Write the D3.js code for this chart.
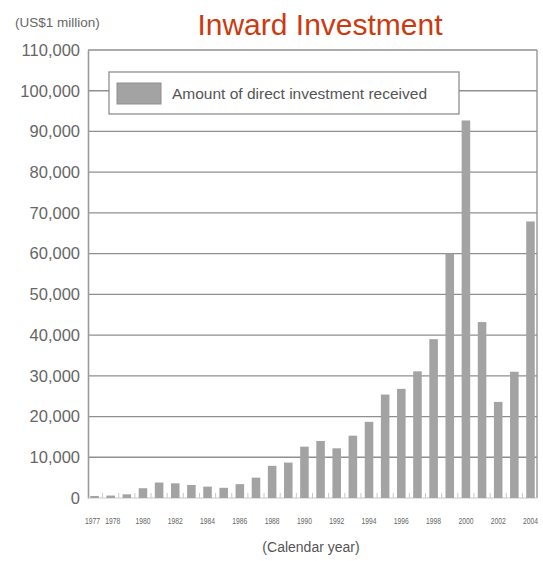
<!DOCTYPE html>
<html>
<head>
<meta charset="utf-8">
<script src="https://cdn.jsdelivr.net/npm/d3@7"></script>
<style>
  body { margin: 0; background: #fff; }
  text { font-family: 'Liberation Sans', Arial, sans-serif; }
</style>
</head>
<body>
<div id="chart"></div>
<script>
const years = ['1977', '1978', '1979', '1980', '1981', '1982', '1983', '1984', '1985', '1986',
  '1987', '1988', '1989', '1990', '1991', '1992', '1993', '1994', '1995', '1996',
  '1997', '1998', '1999', '2000', '2001', '2002', '2003', '2004'];
const investment = [500, 600, 900, 2400, 3800, 3600, 3200, 2800, 2500, 3400,
  5000, 7900, 8700, 12600, 14000, 12200, 15300, 18700, 25400, 26800,
  31100, 39000, 60000, 92700, 43200, 23600, 31000, 67900];
const yTicks = [0, 10000, 20000, 30000, 40000, 50000, 60000, 70000, 80000, 90000, 100000, 110000];
const xTickLabels = ['1977', '1978', '1980', '1982', '1984', '1986', '1988', '1990',
  '1992', '1994', '1996', '1998', '2000', '2002', '2004'];

const width = 543, height = 561;
const margin = { top: 50, right: 5, bottom: 63, left: 88 };

const svg = d3.select('#chart')
  .append('svg')
  .attr('width', width)
  .attr('height', height);

const x = d3.scaleBand()
  .domain(years)
  .range([margin.left - 1, width - margin.right])
  .paddingInner(0.47)
  .paddingOuter(0.2);

const y = d3.scaleLinear()
  .domain([0, 110000])
  .range([height - margin.bottom, margin.top]);

// gridlines
svg.append('g')
  .selectAll('line')
  .data(yTicks.filter(d => d > 0))
  .join('line')
  .attr('x1', margin.left)
  .attr('x2', width - margin.right - 1)
  .attr('y1', d => y(d))
  .attr('y2', d => y(d))
  .attr('stroke', '#8f8f8f')
  .attr('stroke-width', 1.3);

// right border
svg.append('line')
  .attr('x1', width - margin.right - 1).attr('x2', width - margin.right - 1)
  .attr('y1', y(110000)).attr('y2', y(0))
  .attr('stroke', '#8f8f8f').attr('stroke-width', 1.3);

// y axis
const yAxis = svg.append('g')
  .attr('transform', `translate(${margin.left},0)`)
  .call(d3.axisLeft(y).tickValues(yTicks).tickFormat(d3.format(',')).tickSize(0).tickPadding(8));
yAxis.select('.domain').attr('stroke', '#9a9a9a').attr('stroke-width', 1.6);
yAxis.selectAll('text')
  .attr('font-size', 16.5)
  .attr('fill', '#666')
  .style('font-family', "'Liberation Sans', Arial, sans-serif");

// baseline
svg.append('line')
  .attr('x1', margin.left).attr('x2', width - margin.right - 1)
  .attr('y1', y(0)).attr('y2', y(0))
  .attr('stroke', '#c8c8c8').attr('stroke-width', 1);

// small ticks between categories
svg.append('g')
  .selectAll('line')
  .data(years.slice(1))
  .join('line')
  .attr('x1', d => x(d) - x.step() * x.paddingInner() / 2)
  .attr('x2', d => x(d) - x.step() * x.paddingInner() / 2)
  .attr('y1', y(0))
  .attr('y2', y(0) - 5)
  .attr('stroke', '#c8c8c8')
  .attr('stroke-width', 1);

// bars
svg.append('g')
  .selectAll('rect')
  .data(years.map((yr, i) => ({ year: yr, value: investment[i] })))
  .join('rect')
  .attr('x', d => x(d.year))
  .attr('width', x.bandwidth())
  .attr('y', d => y(d.value))
  .attr('height', d => y(0) - y(d.value))
  .attr('fill', '#a3a3a3');

// x labels (first two sit side by side, nudged apart)
const nudge = { '1977': -2, '1978': 2 };
svg.append('g')
  .selectAll('text')
  .data(xTickLabels)
  .join('text')
  .attr('x', d => x(d) + x.bandwidth() / 2 + (nudge[d] || 0))
  .attr('y', height - margin.bottom + 26)
  .attr('text-anchor', 'middle')
  .attr('font-size', 9.5)
  .attr('fill', '#666')
  .style('font-stretch', 'condensed')
  .attr('textLength', 15)
  .attr('lengthAdjust', 'spacingAndGlyphs')
  .text(d => d);

svg.append('text')
  .attr('x', 311)
  .attr('y', 552)
  .attr('text-anchor', 'middle')
  .attr('font-size', 14)
  .attr('fill', '#555')
  .text('(Calendar year)');

// legend
const legend = svg.append('g');
legend.append('rect')
  .attr('x', 109).attr('y', 72).attr('width', 350).attr('height', 42)
  .attr('fill', '#fff').attr('stroke', '#8f8f8f').attr('stroke-width', 1.3);
legend.append('rect')
  .attr('x', 117).attr('y', 83).attr('width', 44).attr('height', 21)
  .attr('fill', '#a3a3a3').attr('stroke', '#8f8f8f');
legend.append('text')
  .attr('x', 172).attr('y', 99)
  .attr('font-size', 15.5)
  .attr('fill', '#555')
  .text('Amount of direct investment received');

// unit label and title
svg.append('text')
  .attr('x', 15).attr('y', 27)
  .attr('font-size', 13.5)
  .attr('fill', '#666')
  .text('(US$1 million)');

svg.append('text')
  .attr('x', 320).attr('y', 35)
  .attr('text-anchor', 'middle')
  .attr('font-size', 30)
  .attr('fill', '#cc3a10')
  .text('Inward Investment');
</script>
</body>
</html>
